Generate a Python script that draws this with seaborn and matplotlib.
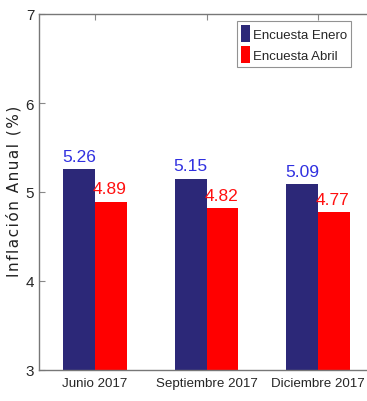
import matplotlib
matplotlib.use("Agg")
import matplotlib.pyplot as plt
import seaborn as sns
import pandas as pd
from matplotlib.patches import Patch

categories = ["Junio 2017", "Septiembre 2017", "Diciembre 2017"]
enero = [5.26, 5.15, 5.09]
abril = [4.89, 4.82, 4.77]
series_names = ["Encuesta Enero", "Encuesta Abril"]
yticks = [3, 4, 5, 6, 7]
ylabel = "Inflación Anual (%)"

sns.set_style("white")
plt.rcParams['font.family'] = ['Liberation Sans', 'DejaVu Sans']

df = pd.DataFrame({
    "cat": categories * 2,
    "val": enero + abril,
    "serie": [series_names[0]] * 3 + [series_names[1]] * 3,
})
colors = ["#2C2878", "#FF0000"]
label_colors = ["#3030E0", "#FF1010"]

fig = plt.figure(figsize=(3.67, 4.02), dpi=100)
ax = fig.add_axes([39/367, 1 - 371/402, (374-39)/367, (371-15)/402])
sns.barplot(data=df, x="cat", y="val", hue="serie", palette=colors,
            width=0.57, ax=ax, legend=False, saturation=1, linewidth=0)
ax.set_ylim(3, 7)
ax.set_xlim(-0.5, 2.5)
ax.set_yticks(yticks)
ax.set_yticklabels([str(t) for t in yticks], fontsize=11)
ax.set_xlabel("")
ax.set_ylabel("")
spaced = "\u200a".join(ylabel)
fig.text(14/367, 1 - 191/402, spaced, rotation=90, ha='center', va='center',
         fontsize=11, family=['DejaVu Sans'], color='#222222')
ax.tick_params(axis='x', labelsize=9.6, direction='in', top=True, bottom=False, length=4,
               color='#888888', pad=5)
ax.tick_params(axis='y', direction='in', left=True, length=4, color='#888888')
for s in ax.spines.values():
    s.set_color('#777777')
    s.set_linewidth(1.0)
ax.spines['right'].set_visible(False)

for cont, lc in zip(ax.containers, label_colors):
    for bar in cont:
        h = bar.get_height()
        if lc == label_colors[0]:
            ax.text(bar.get_x() + bar.get_width()/2, h + 0.06, f"{h:.2f}",
                    ha='center', va='bottom', color=lc, fontsize=12.5)
        else:
            ax.text(bar.get_x() - 0.02, h + 0.06, f"{h:.2f}",
                    ha='left', va='bottom', color=lc, fontsize=12.5)

handles = [Patch(facecolor=c, edgecolor='none') for c in colors]
leg = ax.legend(handles, series_names, loc='upper left', bbox_to_anchor=((237-39)/335, 1 - (22-15)/356),
                fontsize=9.5, frameon=True, fancybox=False, handlelength=0.7, handleheight=1.6,
                handletextpad=0.2, borderpad=0.3, labelspacing=0.3, borderaxespad=0)
leg.get_frame().set_edgecolor('#777777')
leg.get_frame().set_linewidth(0.8)

fig.savefig("out.png", dpi=100)
